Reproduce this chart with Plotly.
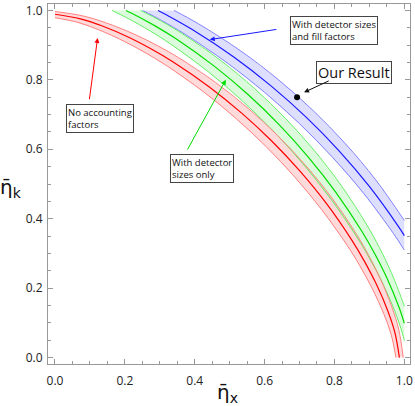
import plotly.graph_objects as go

# ---- data ----
# red band: "No accounting factors"
red_mid_x = [0, 0.0727, 0.1338, 0.2124, 0.2783, 0.3372, 0.4418, 0.5353, 0.6212, 0.7014, 0.7774, 0.8497, 0.8847, 0.9191, 0.9529, 0.9728, 0.986]
red_mid_y = [0.989, 0.9758, 0.9558, 0.9219, 0.8874, 0.8523, 0.7797, 0.7036, 0.6231, 0.5369, 0.4432, 0.3382, 0.2792, 0.2130, 0.1342, 0.0729, 0]
red_hi_x = [0, 0.0806, 0.1452, 0.2267, 0.2943, 0.3541, 0.4596, 0.5531, 0.6385, 0.7178, 0.7926, 0.8637, 0.8981, 0.9317, 0.9646, 0.9841, 0.997]
red_hi_y = [0.997, 0.9841, 0.9646, 0.9317, 0.8981, 0.8637, 0.7926, 0.7178, 0.6385, 0.5531, 0.4596, 0.3541, 0.2943, 0.2267, 0.1452, 0.0806, 0]
red_lo_x = [0, 0.0657, 0.1237, 0.1994, 0.2638, 0.3217, 0.4254, 0.5187, 0.6051, 0.6862, 0.7631, 0.8368, 0.8725, 0.9076, 0.9420, 0.9625, 0.976]
red_lo_y = [0.979, 0.9655, 0.9449, 0.9104, 0.8752, 0.8394, 0.7655, 0.6883, 0.6070, 0.5203, 0.4267, 0.3227, 0.2646, 0.2000, 0.1240, 0.0659, 0]

# green band: "With detector sizes only"
green_mid_x = [0.203, 0.2196, 0.2877, 0.3486, 0.4567, 0.5534, 0.6422, 0.7251, 0.8036, 0.8784, 0.9146, 0.9502, 0.9851, 1.0]
green_mid_y = [1.0, 0.9920, 0.9548, 0.9170, 0.8389, 0.7570, 0.6704, 0.5777, 0.4768, 0.3639, 0.3004, 0.2292, 0.1444, 0.0988]
green_hi_x = [0.2454, 0.3042, 0.3660, 0.4751, 0.5717, 0.6599, 0.7420, 0.8192, 0.8927, 0.9283, 0.9630, 0.9970, 1.0]
green_hi_y = [1.0, 0.9691, 0.9320, 0.8553, 0.7746, 0.6889, 0.5969, 0.4959, 0.3821, 0.3176, 0.2446, 0.1566, 0.1476]
green_lo_x = [0.163, 0.2060, 0.2725, 0.3323, 0.4394, 0.5358, 0.6250, 0.7088, 0.7882, 0.8643, 0.9012, 0.9374, 0.9730, 0.9942, 1.0]
green_lo_y = [1.0, 0.9786, 0.9408, 0.9023, 0.8229, 0.7399, 0.6525, 0.5594, 0.4587, 0.3469, 0.2845, 0.2150, 0.1333, 0.0708, 0.0486]

# blue band: "With detector sizes and fill factors"
blue_mid_x = [0.2949, 0.3224, 0.3906, 0.5118, 0.6201, 0.7196, 0.8126, 0.9005, 0.9844, 1.0]
blue_mid_y = [1.0, 0.9855, 0.9465, 0.8659, 0.7813, 0.6919, 0.5963, 0.4922, 0.3756, 0.3511]
blue_hi_x = [0.341, 0.4102, 0.5324, 0.6407, 0.7395, 0.8315, 0.9181, 1.0]
blue_hi_y = [1.0, 0.9619, 0.8828, 0.7995, 0.7111, 0.6160, 0.5119, 0.395]
blue_lo_x = [0.251, 0.3053, 0.3723, 0.4924, 0.6004, 0.7004, 0.7942, 0.8832, 0.9685, 1.0]
blue_lo_y = [1.0, 0.9711, 0.9313, 0.8493, 0.7637, 0.6734, 0.5773, 0.4735, 0.3580, 0.3096]

# measured point
result_x = [0.693]
result_y = [0.750]

tick_vals = [0.0, 0.2, 0.4, 0.6, 0.8, 1.0]
tick_text = ["0.0", "0.2", "0.4", "0.6", "0.8", "1.0"]

bands = [
    (blue_hi_x, blue_hi_y, blue_mid_x, blue_mid_y, blue_lo_x, blue_lo_y,
     "rgba(90,90,255,0.20)", "#8080ff", "#1a1aff"),
    (green_hi_x, green_hi_y, green_mid_x, green_mid_y, green_lo_x, green_lo_y,
     "rgba(60,230,60,0.18)", "#66ee66", "#00dd00"),
    (red_hi_x, red_hi_y, red_mid_x, red_mid_y, red_lo_x, red_lo_y,
     "rgba(255,70,70,0.20)", "#ff8080", "#ff0000"),
]

fig = go.Figure()
for hx, hy, mx, my, lx, ly, fillc, edgec, midc in bands:
    fig.add_trace(go.Scatter(x=hx + lx[::-1], y=hy + ly[::-1], fill="toself",
                             fillcolor=fillc, mode="lines", line=dict(width=0),
                             hoverinfo="skip", showlegend=False))
for hx, hy, mx, my, lx, ly, fillc, edgec, midc in bands:
    for xs, ys in ((hx, hy), (lx, ly)):
        fig.add_trace(go.Scatter(x=xs, y=ys, mode="lines",
                                 line=dict(color=edgec, width=1, shape="spline"),
                                 showlegend=False))
    fig.add_trace(go.Scatter(x=mx, y=my, mode="lines",
                             line=dict(color=midc, width=1.2, shape="spline"),
                             showlegend=False))

fig.add_trace(go.Scatter(x=result_x, y=result_y, mode="markers",
                         marker=dict(color="black", size=6), showlegend=False))

axis_common = dict(
    tickvals=tick_vals, ticktext=tick_text, ticks="inside", ticklen=5,
    tickcolor="#999", tickwidth=1, showline=True, linecolor="#999", linewidth=1,
    mirror="ticks", showgrid=False, zeroline=False, ticklabeloverflow="allow",
    minor=dict(dtick=0.05, tick0=0, ticks="inside", ticklen=3, tickcolor="#999", tickwidth=1),
    tickfont=dict(family="Open Sans", size=12, color="#222"),
)
fig.update_xaxes(range=[-0.02, 1.0163], ticklabelstandoff=6, **axis_common)
fig.update_yaxes(range=[-0.0186, 1.0186], ticklabelstandoff=2, **axis_common)

box_font = dict(family="Open Sans", size=9.5, color="#111")
boxes = [
    ("No accounting<br>factors", 0.031, 0.731, box_font),
    ("With detector<br>sizes only", 0.329, 0.587, box_font),
    ("With detector sizes<br>and fill factors", 0.673, 0.984, box_font),
    ("Our Result", 0.746, 0.854, dict(family="Open Sans", size=14.5, color="#111")),
]
annotations = []
for txt, bx, by, fnt in boxes:
    annotations.append(dict(text=txt, x=bx, y=by, xref="x", yref="y", xanchor="left",
                            yanchor="top", align="left", showarrow=False, font=fnt,
                            bgcolor="white", bordercolor="#444", borderwidth=1, borderpad=1))
arrows = [
    (0.122, 0.921, 0.098, 0.740, "#ff0000"),
    (0.489, 0.800, 0.377, 0.595, "#00dd00"),
    (0.443, 0.916, 0.638, 0.946, "#1a1aff"),
    (0.713, 0.764, 0.788, 0.799, "#111111"),
]
for tx, ty, sx, sy, col in arrows:
    annotations.append(dict(text="", x=tx, y=ty, ax=sx, ay=sy, xref="x", yref="y",
                            axref="x", ayref="y", showarrow=True, arrowhead=2,
                            arrowsize=1, arrowwidth=1, arrowcolor=col, standoff=0))
annotations.append(dict(text="\u03b7\u0304<sub>k</sub>", x=-0.102, y=0.489, xref="paper", yref="paper",
                        xanchor="center", yanchor="middle", showarrow=False,
                        font=dict(family="DejaVu Sans", size=20, color="#111")))
annotations.append(dict(text="\u03b7\u0304<sub>x</sub>", x=0.496, y=-0.080, xref="paper", yref="paper",
                        xanchor="center", yanchor="middle", showarrow=False,
                        font=dict(family="DejaVu Sans", size=20, color="#111")))

fig.update_layout(width=415, height=406, margin=dict(l=48, r=4, t=2, b=42),
                  plot_bgcolor="white", paper_bgcolor="white",
                  annotations=annotations, showlegend=False)
fig.write_html("out.html", config={"displayModeBar": False},
               post_script="document.body.style.margin='0';")
